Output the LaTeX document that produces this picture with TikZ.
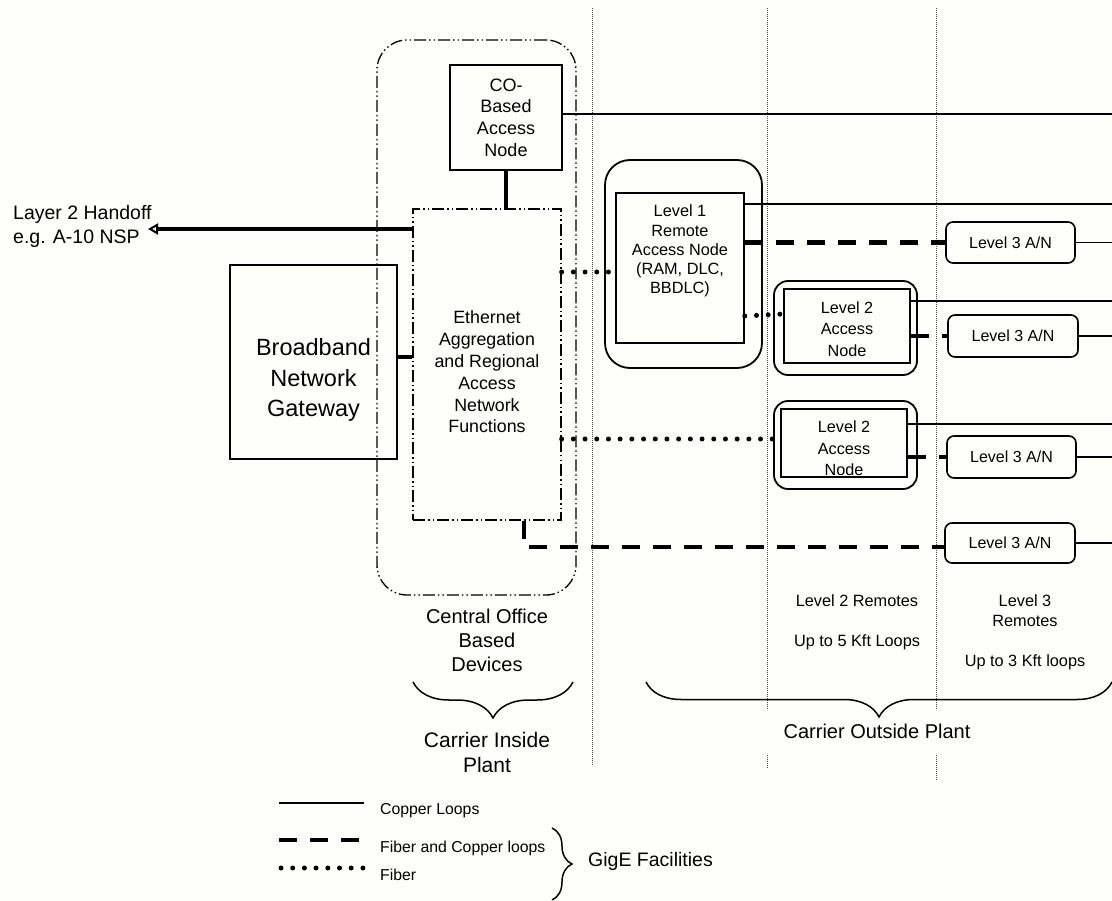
\documentclass[tikz,border=0pt]{standalone}
\usepackage{fontspec}
\setmainfont{Liberation Sans}
\usetikzlibrary{arrows.meta,decorations.pathreplacing,calc}
\definecolor{bgc}{RGB}{254,254,251}
\newcommand\fsz[2]{\fontsize{#1}{#2}\selectfont}
\begin{document}
\begin{tikzpicture}[x=1pt,y=-1pt,
  box/.style={draw, line width=1.6pt, inner sep=0pt, align=center},
  rbox/.style={box, line width=1.8pt},
  ddbox/.style={draw, line width=1.3pt, inner sep=0pt, align=center,
     dash pattern=on 12pt off 3pt on 1.5pt off 3pt on 1.5pt off 3pt},
  lthree/.style={box, rounded corners=7pt, minimum width=129pt, minimum height=41pt, font=\fsz{16}{19}},
  txt/.style={inner sep=0pt, align=center},
  copper/.style={line width=1.9pt},
  thickln/.style={line width=4.2pt},
  fcdash/.style={line width=4.4pt, dash pattern=on 18pt off 13pt},
  fiber/.style={line width=5pt, line cap=round, dash pattern=on 0pt off 11.7pt},
  sep/.style={line width=0.8pt, black!70, dash pattern=on 0.8pt off 1.2pt},
  brc/.style={decorate, line width=1.5pt}
]
\fill[bgc] (0,0) rectangle (1112,901);
\useasboundingbox (0,0) rectangle (1112,901);

% separators
\draw[sep] (592,8) -- (592,765);
\draw[sep] (767,8) -- (767,710);
\draw[sep] (767,755) -- (767,768);
\draw[sep] (936,8) -- (936,710);
\draw[sep] (936,755) -- (936,780);

% right-edge coordinates
\coordinate (r0) at (1112,114);
\coordinate (r1) at (1112,204);
\coordinate (r2) at (1112,301);
\coordinate (r3) at (1112,424);
\coordinate (handoff) at (148,229);
\coordinate (bend) at (524,547);

% CO area
\node[ddbox, minimum width=199pt, minimum height=555pt, rounded corners=30pt] (cobox) at (476.5,317.5) {};
\node[box, minimum width=112pt, minimum height=105pt, font=\fsz{18}{21.7}] (co) at (506,117.5) {CO-\\Based\\Access\\Node};
\node[ddbox, minimum width=148pt, minimum height=311pt] (eth) at (487,364.5) {};
\node[txt, font=\fsz{17.8}{21.8}] (etht) at (487,372) {Ethernet\\Aggregation\\and Regional\\Access\\Network\\Functions};
\node[box, minimum width=167pt, minimum height=194pt] (bng) at (313.5,362) {};
\node[txt, font=\fsz{23.5}{30.3}] (bngt) at (313.5,380) {Broadband\\Network\\Gateway};
\node[txt, anchor=west, align=left, font=\fsz{19.5}{24}] (l2h) at (13,226) {Layer 2 Handoff\\e.g. A-10 NSP};

% Level 1
\node[rbox, minimum width=157pt, minimum height=208pt, rounded corners=25pt] (l1out) at (683.5,264) {};
\node[box, minimum width=128pt, minimum height=150pt] (l1in) at (680,268) {};
\node[txt, font=\fsz{16.3}{19.2}] (l1t) at (680,251) {Level 1\\Remote\\Access Node\\(RAM, DLC,\\BBDLC)};

% Level 2 (a)
\node[rbox, minimum width=143pt, minimum height=94pt, rounded corners=14pt] (l2aout) at (845.5,328) {};
\node[box, minimum width=126pt, minimum height=74pt] (l2ain) at (847,326) {};
\node[txt, font=\fsz{16.2}{21.7}] (l2at) at (847,329) {Level 2\\Access\\Node};

% Level 2 (b)
\node[rbox, minimum width=143pt, minimum height=88pt, rounded corners=14pt] (l2bout) at (845.5,445) {};
\node[box, minimum width=126pt, minimum height=68pt] (l2bin) at (844,443) {};
\node[txt, font=\fsz{16.2}{21.7}] (l2bt) at (844,448.4) {Level 2\\Access\\Node};

% Level 3
\node[lthree] (l3a) at (1010.5,242.5) {Level 3 A/N};
\node[lthree, minimum width=130pt, minimum height=42pt] (l3b) at (1013,336) {Level 3 A/N};
\node[lthree, minimum height=42pt] (l3c) at (1011.5,457) {Level 3 A/N};
\node[lthree, minimum width=130pt, minimum height=40pt] (l3d) at (1010,543) {Level 3 A/N};

% connectors
\draw[copper] (co.east |- r0) -- (r0);
\draw[thickln] (co.south) -- (co.south |- eth.north);
\draw[thickln, -{Triangle[open, length=10pt, width=11pt, line width=2pt]}] (eth.west |- handoff) -- (handoff);
\draw[thickln] ([yshift=5pt]bng.east) -- ([yshift=5pt]bng.east -| eth.west);
\draw[fiber] ([yshift=-4pt]l1in.west -| eth.east) -- ([yshift=-4pt]l1in.west);
\draw[copper] (l1in.east |- r1) -- (r1);
\draw[fcdash] (l1in.east |- l3a.west) -- (l3a.west);
\draw[copper] (l3a.east) -- (l3a.east -| r1);
\draw[fiber] ([yshift=12pt]l2aout.west -| l1in.east) -- ([yshift=12pt]l2ain.west);
\draw[copper] (l2ain.east |- r2) -- (r2);
\draw[fcdash] (l2ain.east |- l3b.west) -- (l3b.west);
\draw[copper] (l3b.east) -- (l3b.east -| r2);
\draw[fiber] ([yshift=6pt]l2bout.west -| eth.east) -- ([yshift=6pt]l2bout.west);
\draw[copper] (l2bin.east |- r3) -- (r3);
\draw[fcdash] (l2bin.east |- l3c.west) -- (l3c.west);
\draw[copper] (l3c.east) -- (l3c.east -| r3);
\draw[fcdash] (bend |- eth.south) -- (bend) -- (bend -| l3d.west);
\draw[copper] (l3d.east) -- (l3d.east -| r3);

% labels
\node[txt, font=\fsz{20}{24}] (cot) at (487,640.5) {Central Office\\Based\\Devices};
\draw[brc, decoration={brace, amplitude=36pt}] (573,682) -- (413,682);
\node[txt, font=\fsz{21}{25}] (cip) at (487,752) {Carrier Inside\\Plant};
\node[txt, anchor=base, font=\fsz{16.3}{20}] (l2r) at (857,606) {Level 2 Remotes};
\node[txt, anchor=base, font=\fsz{16.3}{20}] (l2l) at (857,646) {Up to 5 Kft Loops};
\node[txt, font=\fsz{16.3}{20}] (l3r) at (1025,610.5) {Level 3\\Remotes};
\node[txt, anchor=base, font=\fsz{16.3}{20}] (l3l) at (1025,666) {Up to 3 Kft loops};
\draw[brc, decoration={brace, amplitude=35pt}] (1112,682) -- (646,682);
\node[txt, anchor=base, font=\fsz{20}{24}] (cop) at (877,738) {Carrier Outside Plant};

% legend
\draw[copper] (279,803) -- (364,803);
\node[txt, anchor=base west, font=\fsz{15.8}{19}] (lg1) at (380,814) {Copper Loops};
\draw[fcdash] (279,840) -- (364,840);
\node[txt, anchor=base west, font=\fsz{15.8}{19}] (lg2) at (380,852) {Fiber and Copper loops};
\draw[fiber] (281,868) -- (364,868);
\node[txt, anchor=base west, font=\fsz{15.8}{19}] (lg3) at (380,880) {Fiber};
\draw[brc, decoration={brace, amplitude=20pt}] (552,828) -- (552,900);
\node[txt, anchor=base west, font=\fsz{19.5}{24}] (gig) at (588,866.7) {GigE Facilities};
\end{tikzpicture}
\end{document}
